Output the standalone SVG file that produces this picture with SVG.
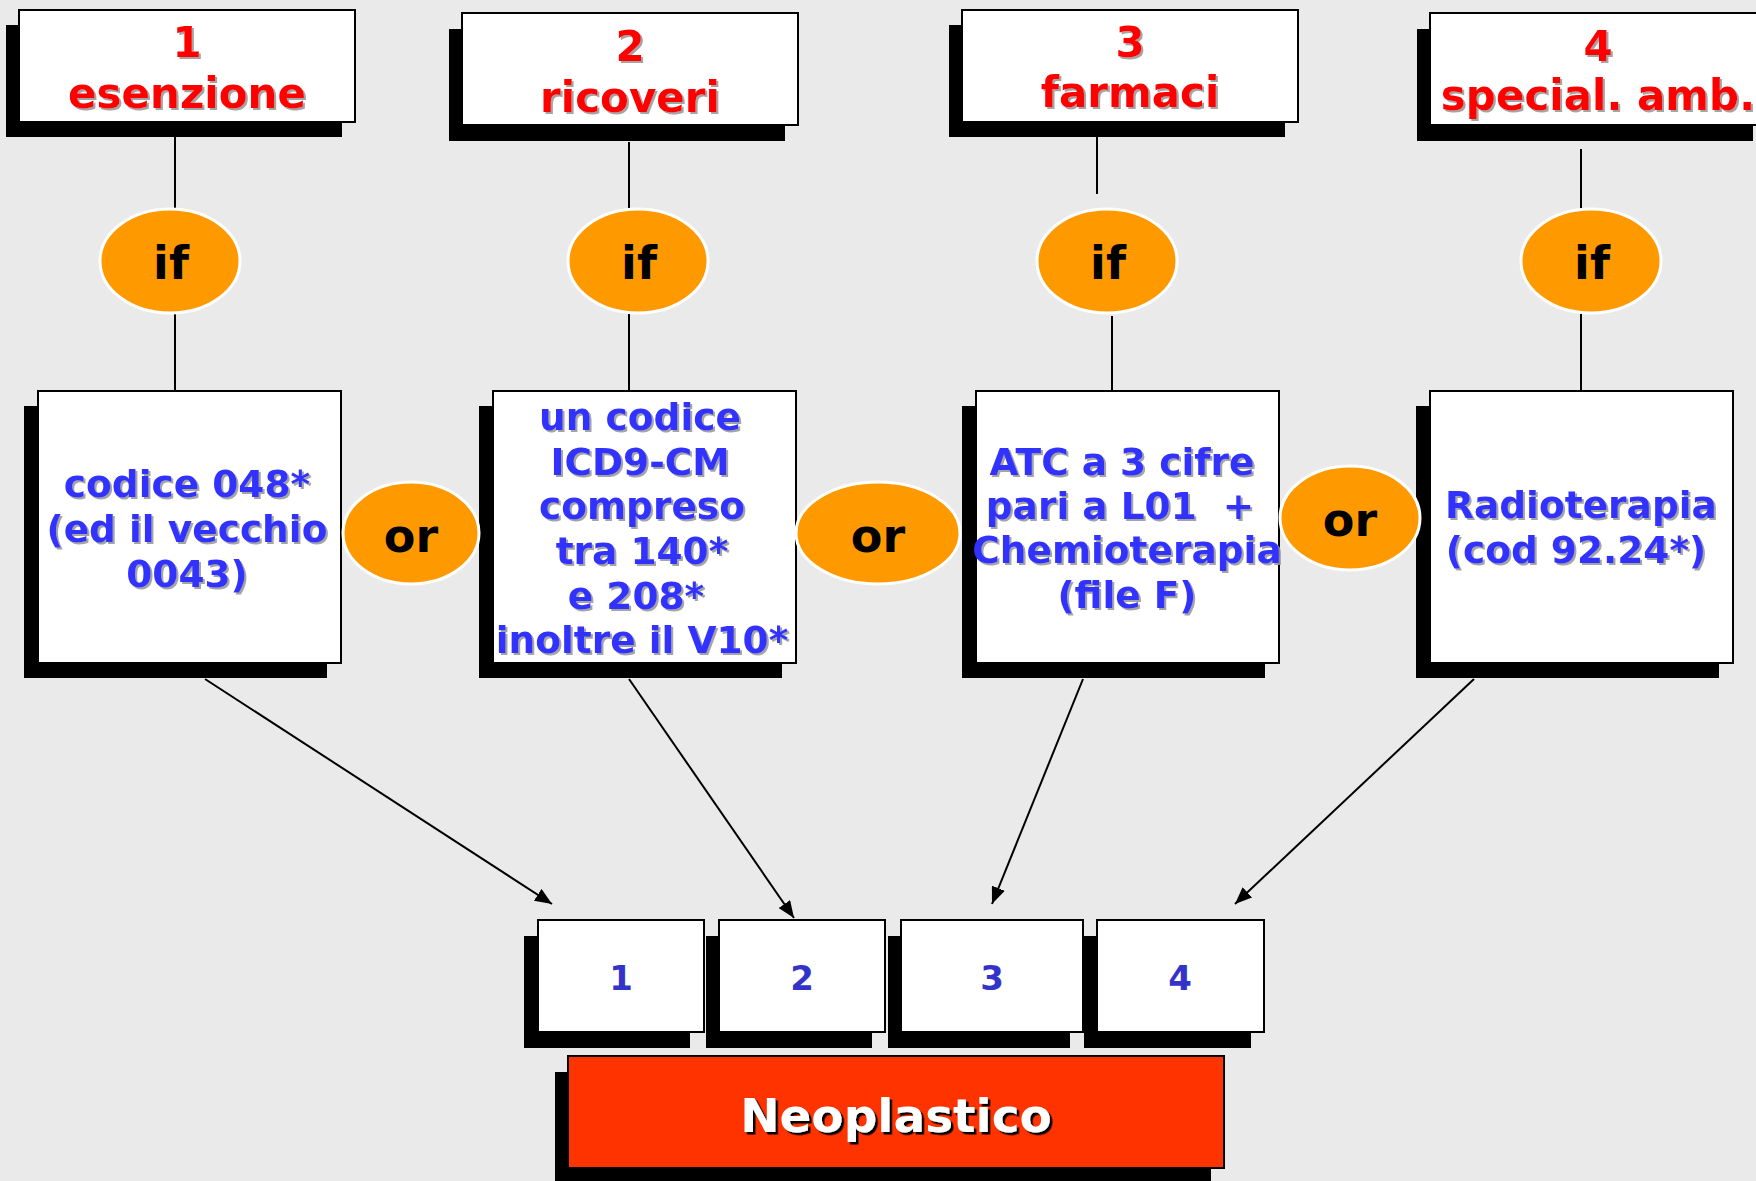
<svg xmlns="http://www.w3.org/2000/svg" width="1756" height="1181" viewBox="0 0 1756 1181">
<defs>
<filter id="tsGray" x="-10%" y="-20%" width="130%" height="150%">
<feDropShadow dx="2" dy="2" stdDeviation="0.6" flood-color="#9A9A9A" flood-opacity="0.9"/>
</filter>
<filter id="tsBlack" x="-10%" y="-20%" width="130%" height="150%">
<feDropShadow dx="2.5" dy="2.5" stdDeviation="0.5" flood-color="#000000" flood-opacity="1"/>
</filter>
<marker id="arr" markerUnits="userSpaceOnUse" markerWidth="18" markerHeight="14" refX="17" refY="7" orient="auto">
<path d="M0,0 L17,7 L0,14 z" fill="#000"/>
</marker>
</defs>
<style>
.bg{fill:#EAEAEA}
.box{fill:#FFFFFF;stroke:#000;stroke-width:2}
.sh{fill:#000}
.op{fill:#FF9900;stroke:#FFFFFF;stroke-width:3}
text{font-family:"DejaVu Sans",Verdana,sans-serif;font-weight:bold;text-anchor:middle}
.red{font-size:42px;fill:#FF0000;filter:url(#tsGray)}
.blue{font-size:37.5px;fill:#3333FF;filter:url(#tsGray)}
.opt{font-size:46px;fill:#000}
.num{font-size:34px;fill:#3333CC}
.neo{font-size:47px;fill:#FFFFFF;filter:url(#tsBlack)}
.conn line{stroke:#000;stroke-width:2}
.conn .a{marker-end:url(#arr)}
</style>
<rect class="bg" x="0" y="0" width="1756" height="1181"/>

<g class="conn" id="connectors">
<line x1="175" y1="137" x2="175" y2="209"/>
<line x1="175" y1="313" x2="175" y2="391"/>
<line x1="629" y1="142" x2="629" y2="209"/>
<line x1="629" y1="313" x2="629" y2="391"/>
<line x1="1097" y1="137" x2="1097" y2="194"/>
<line x1="1112" y1="316" x2="1112" y2="391"/>
<line x1="1581" y1="149" x2="1581" y2="209"/>
<line x1="1581" y1="313" x2="1581" y2="391"/>
<line class="a" x1="205" y1="679" x2="552" y2="904"/>
<line class="a" x1="629" y1="679" x2="794" y2="918"/>
<line class="a" x1="1083" y1="679" x2="992" y2="904"/>
<line class="a" x1="1474" y1="679" x2="1235" y2="904"/>
</g>

<g id="top1">
<rect class="sh" x="6" y="25" width="336" height="112"/>
<rect class="box" x="19" y="10" width="336" height="112"/>
<text class="red" x="187" y="57">1</text>
<text class="red" x="187" y="108">esenzione</text>
</g>
<g id="top2">
<rect class="sh" x="449" y="29" width="336" height="112"/>
<rect class="box" x="462" y="13" width="336" height="112"/>
<text class="red" x="630" y="61">2</text>
<text class="red" x="630" y="112">ricoveri</text>
</g>
<g id="top3">
<rect class="sh" x="949" y="25" width="336" height="112"/>
<rect class="box" x="962" y="10" width="336" height="112"/>
<text class="red" x="1130" y="57">3</text>
<text class="red" x="1130" y="107">farmaci</text>
</g>
<g id="top4">
<rect class="sh" x="1417" y="29" width="336" height="112"/>
<rect class="box" x="1430" y="13" width="336" height="112"/>
<text class="red" x="1598" y="61">4</text>
<text class="red" x="1598" y="110">special. amb.</text>
</g>

<g id="if1"><ellipse class="op" cx="170" cy="261" rx="70" ry="52"/><text class="opt" x="171" y="279">if</text></g>
<g id="if2"><ellipse class="op" cx="638" cy="261" rx="70" ry="52"/><text class="opt" x="639" y="279">if</text></g>
<g id="if3"><ellipse class="op" cx="1107" cy="261" rx="70" ry="52"/><text class="opt" x="1108" y="279">if</text></g>
<g id="if4"><ellipse class="op" cx="1591" cy="261" rx="70" ry="52"/><text class="opt" x="1592" y="279">if</text></g>

<g id="cond1">
<rect class="sh" x="24" y="406" width="303" height="272"/>
<rect class="box" x="38" y="391" width="303" height="272"/>
<text class="blue" x="187" y="497">codice 048*</text>
<text class="blue" x="187" y="542">(ed il vecchio</text>
<text class="blue" x="187" y="587">0043)</text>
</g>
<g id="cond2">
<rect class="sh" x="479" y="406" width="303" height="272"/>
<rect class="box" x="493" y="391" width="303" height="272"/>
<text class="blue" x="640" y="430">un codice</text>
<text class="blue" x="640" y="475">ICD9-CM</text>
<text class="blue" x="642" y="519">compreso</text>
<text class="blue" x="642" y="564">tra 140*</text>
<text class="blue" x="636" y="609">e 208*</text>
<text class="blue" x="642" y="653">inoltre il V10*</text>
</g>
<g id="cond3">
<rect class="sh" x="962" y="406" width="303" height="272"/>
<rect class="box" x="976" y="391" width="303" height="272"/>
<text class="blue" x="1122" y="475">ATC a 3 cifre</text>
<text class="blue" x="1120" y="519" xml:space="preserve">pari a L01  +</text>
<text class="blue" x="1127" y="563">Chemioterapia</text>
<text class="blue" x="1127" y="608">(file F)</text>
</g>
<g id="cond4">
<rect class="sh" x="1416" y="406" width="303" height="272"/>
<rect class="box" x="1430" y="391" width="303" height="272"/>
<text class="blue" x="1581" y="518">Radioterapia</text>
<text class="blue" x="1576" y="563">(cod 92.24*)</text>
</g>

<g id="or1"><ellipse class="op" cx="411" cy="533" rx="68" ry="51"/><text class="opt" x="411" y="552">or</text></g>
<g id="or2"><ellipse class="op" cx="878" cy="533" rx="82" ry="51"/><text class="opt" x="878" y="552">or</text></g>
<g id="or3"><ellipse class="op" cx="1350" cy="518" rx="70" ry="52"/><text class="opt" x="1350" y="536">or</text></g>

<g id="n1">
<rect class="sh" x="524" y="936" width="166" height="112"/>
<rect class="box" x="538" y="920" width="166" height="112"/>
<text class="num" x="621" y="990">1</text>
</g>
<g id="n2">
<rect class="sh" x="706" y="936" width="166" height="112"/>
<rect class="box" x="719" y="920" width="166" height="112"/>
<text class="num" x="802" y="990">2</text>
</g>
<g id="n3">
<rect class="sh" x="888" y="936" width="182" height="112"/>
<rect class="box" x="901" y="920" width="182" height="112"/>
<text class="num" x="992" y="990">3</text>
</g>
<g id="n4">
<rect class="sh" x="1084" y="936" width="167" height="112"/>
<rect class="box" x="1097" y="920" width="167" height="112"/>
<text class="num" x="1180" y="990">4</text>
</g>

<g id="neoplastico">
<rect class="sh" x="555" y="1072" width="656" height="112"/>
<rect x="568" y="1056" width="656" height="112" fill="#FF3300" stroke="#000" stroke-width="2"/>
<text class="neo" x="896" y="1132">Neoplastico</text>
</g>
</svg>
